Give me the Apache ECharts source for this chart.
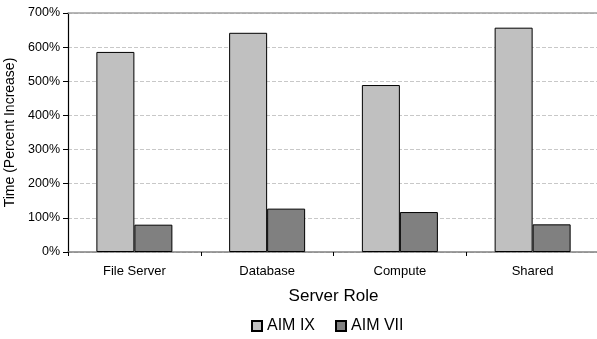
<!DOCTYPE html>
<html><head><meta charset="utf-8">
<script src="https://cdn.jsdelivr.net/npm/echarts@6/dist/echarts.min.js"></script>
<style>html,body{margin:0;padding:0;background:#fff}#c{width:597px;height:339px}</style>
</head><body><div id="c"></div>
<script>
var categories = ['File Server', 'Database', 'Compute', 'Shared'];
var aimIX = [586, 642, 489, 657];
var aimVII = [80, 127, 117, 81];
var yTicks = [0, 100, 200, 300, 400, 500, 600, 700];

var font = '"Liberation Sans", Arial, sans-serif';
var chart = echarts.init(document.getElementById('c'), null, {renderer: 'canvas'});
chart.setOption({
  animation: false,
  textStyle: {fontFamily: font, color: '#000'},
  grid: {left: 68, right: -2, top: 13, bottom: 87, containLabel: false, outerBoundsMode: 'none'},
  legend: {
    data: ['AIM IX', 'AIM VII'], top: 318, left: 251, padding: 0,
    itemWidth: 10, itemHeight: 10, itemGap: 20, icon: 'rect',
    textStyle: {fontFamily: font, fontSize: 16, color: '#000'}
  },
  xAxis: [{
    type: 'category', data: categories,
    name: 'Server Role', nameLocation: 'middle', nameGap: 36,
    nameTextStyle: {fontFamily: font, fontSize: 17, color: '#000'},
    axisLine: {lineStyle: {color: '#808080', width: 1.5}},
    axisTick: {show: true, inside: false, length: 4, lineStyle: {color: '#000'}},
    axisLabel: {fontFamily: font, fontSize: 13, color: '#000', margin: 13}
  }, {
    type: 'category', data: categories, position: 'top',
    axisLine: {show: true, lineStyle: {color: '#a0a0a0', width: 1.5}},
    axisTick: {show: false}, axisLabel: {show: false}
  }],
  yAxis: {
    type: 'value', min: yTicks[0], max: yTicks[yTicks.length - 1], interval: 100,
    name: 'Time (Percent Increase)', nameLocation: 'middle', nameGap: 43,
    nameTextStyle: {fontFamily: font, fontSize: 14, color: '#000'},
    axisLine: {show: true, lineStyle: {color: '#000', width: 1.2}},
    axisTick: {show: true, length: 5, lineStyle: {color: '#000'}},
    axisLabel: {fontFamily: font, fontSize: 12.5, color: '#000', margin: 8,
      formatter: function (v) { return v + '%'; }},
    splitLine: {show: true, lineStyle: {color: '#c8c8c8', type: [4, 2], width: 1}}
  },
  series: [{
    name: 'AIM IX', type: 'bar', data: aimIX, barWidth: 38, barGap: '0%',
    itemStyle: {color: '#c0c0c0', borderColor: '#000', borderWidth: 1}
  }, {
    name: 'AIM VII', type: 'bar', data: aimVII, barWidth: 38, barGap: '0%',
    itemStyle: {color: '#808080', borderColor: '#000', borderWidth: 1}
  }]
});
</script></body></html>
